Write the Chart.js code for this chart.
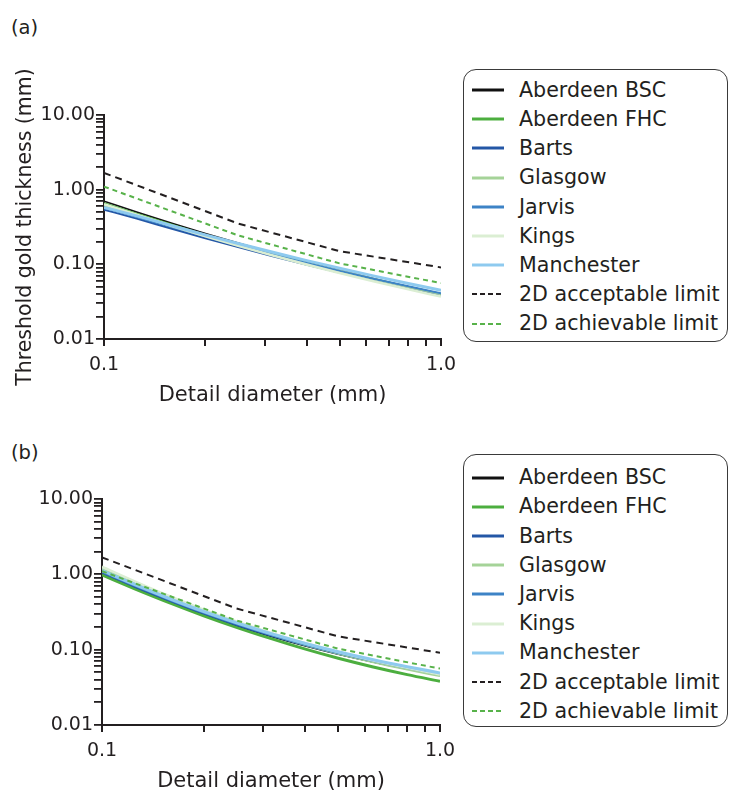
<!DOCTYPE html>
<html>
<head>
<meta charset="utf-8">
<script src="https://cdn.jsdelivr.net/npm/chart.js@4/dist/chart.umd.min.js"></script>
<style>
  html, body { margin: 0; padding: 0; background: #fff; width: 729px; height: 792px; overflow: hidden;
    font-family: "DejaVu Sans", sans-serif; color: #231f20; }
  .panel-label { position: absolute; left: 11px; font-size: 19.5px; line-height: 1; }
  canvas { position: absolute; left: 0; }
  .legend { position: absolute; left: 463px; width: 265px; height: 273px; box-sizing: border-box;
    border: 1.6px solid #3a3a3a; border-radius: 13px; background: #fff; }
  .legend .row { height: 29.2px; display: flex; align-items: center; white-space: nowrap; }
  .legend svg { margin-left: 7.5px; margin-right: 15.5px; flex: none; }
  .legend span { font-size: 20.6px; line-height: 1; }
</style>
</head>
<body>
<div class="panel-label" style="top:18px">(a)</div>
<canvas id="chartA" width="460" height="420" style="top:0"></canvas>
<div class="legend" id="legendA" style="top:69px; padding-top:5.5px"></div>

<div class="panel-label" style="top:443px">(b)</div>
<canvas id="chartB" width="460" height="380" style="top:420px"></canvas>
<div class="legend" id="legendB" style="top:454px; padding-top:8px"></div>

<script>
// Detail diameters (mm) at which each site's threshold curve is sampled
const diameters = [0.1, 0.125, 0.16, 0.2, 0.25, 0.315, 0.4, 0.5, 0.63, 0.8, 1.0];

// Panel (a): threshold gold thickness (mm) per site
const aAberdeenBSC  = [0.700, 0.503, 0.353, 0.259, 0.193, 0.144, 0.108, 0.0832, 0.0645, 0.0501, 0.0400];
const aAberdeenFHC  = [0.660, 0.478, 0.337, 0.248, 0.185, 0.139, 0.104, 0.0806, 0.0626, 0.0487, 0.0390];
const aBarts        = [0.540, 0.409, 0.297, 0.224, 0.170, 0.129, 0.0988, 0.0777, 0.0612, 0.0483, 0.0390];
const aGlasgow      = [0.620, 0.458, 0.327, 0.243, 0.183, 0.138, 0.104, 0.0814, 0.0636, 0.0498, 0.0400];
const aJarvis       = [0.570, 0.431, 0.313, 0.236, 0.179, 0.136, 0.104, 0.0817, 0.0643, 0.0508, 0.0410];
const aKings        = [0.640, 0.461, 0.324, 0.238, 0.177, 0.132, 0.0991, 0.0767, 0.0595, 0.0463, 0.0370];
const aManchester   = [0.580, 0.446, 0.327, 0.248, 0.190, 0.146, 0.112, 0.0884, 0.0700, 0.0555, 0.0450];

// Panel (b): threshold gold thickness (mm) per site
const bAberdeenBSC  = [0.998, 0.656, 0.423, 0.292, 0.208, 0.151, 0.112, 0.0871, 0.0690, 0.0555, 0.0460];
const bAberdeenFHC  = [0.980, 0.643, 0.412, 0.282, 0.198, 0.141, 0.1015, 0.0768, 0.0593, 0.0466, 0.0380];
const bBarts        = [1.050, 0.685, 0.439, 0.301, 0.213, 0.154, 0.114, 0.0879, 0.0694, 0.0556, 0.0459];
const bGlasgow      = [1.200, 0.768, 0.480, 0.324, 0.225, 0.160, 0.116, 0.0890, 0.0693, 0.0549, 0.0450];
const bJarvis       = [1.077, 0.703, 0.450, 0.309, 0.219, 0.158, 0.1165, 0.0902, 0.0712, 0.0570, 0.0471];
const bKings        = [1.260, 0.805, 0.503, 0.339, 0.236, 0.1675, 0.1217, 0.0930, 0.0725, 0.0574, 0.0470];
const bManchester   = [1.120, 0.731, 0.468, 0.321, 0.228, 0.164, 0.121, 0.0938, 0.0740, 0.0593, 0.0490];

// 2D limiting values (European guidelines)
const limitDiameters  = [0.1, 0.25, 0.5, 1.0];
const acceptableLimit = [1.68, 0.352, 0.150, 0.091];
const achievableLimit = [1.10, 0.244, 0.103, 0.056];

const siteNames  = ['Aberdeen BSC', 'Aberdeen FHC', 'Barts', 'Glasgow', 'Jarvis', 'Kings', 'Manchester'];
const limitNames = ['2D acceptable limit', '2D achievable limit'];

// Axis ticks
const xMajorValues = [0.1, 1.0];
const xTickLabels  = ['0.1', '1.0'];
const yMajorValues = [0.01, 0.1, 1, 10];
const yTickLabels  = ['0.01', '0.10', '1.00', '10.00'];

// ---- styling ----
const ink = '#231f20';
const siteColors = ['#111111', '#4cae3f', '#2457a6', '#a5d398', '#3d83c6', '#dbeed3', '#8ecaef'];
const limitColors = [ink, '#58b24a'];
const limitDash = [[7, 5], [5, 4]];
const widthsA = [1.6, 2, 2, 2.4, 2, 2.6, 3];
const widthsB = [1.6, 3, 2, 2.6, 2, 2.6, 3.2];

Chart.defaults.font.family = '"DejaVu Sans", sans-serif';
Chart.defaults.color = ink;

function minorTicks(decades) {
  const out = [];
  decades.forEach(d => { for (let m = 1; m <= 9; m++) out.push(+(m * d).toPrecision(3)); });
  return out;
}
const xTickValues = minorTicks([0.1]).concat([1.0]);
const yTickValues = minorTicks([0.01, 0.1, 1]).concat([10]);

function labelFor(v, majors, labels) {
  const i = majors.findIndex(m => Math.abs(Math.log10(v) - Math.log10(m)) < 1e-6);
  return i >= 0 ? labels[i] : '';
}

function buildDatasets(series, widths) {
  const sets = series.map((vals, i) => ({
    label: siteNames[i],
    data: diameters.map((d, k) => ({ x: d, y: vals[k] })),
    borderColor: siteColors[i],
    borderWidth: widths[i],
    pointRadius: 0,
    cubicInterpolationMode: 'monotone',
    fill: false,
    order: 20 - i
  }));
  [acceptableLimit, achievableLimit].forEach((vals, i) => {
    sets.push({
      label: limitNames[i],
      data: limitDiameters.map((d, k) => ({ x: d, y: vals[k] })),
      borderColor: limitColors[i],
      borderWidth: 2,
      borderDash: limitDash[i],
      pointRadius: 0,
      tension: 0,
      fill: false,
      order: 1 - i
    });
  });
  return sets;
}

// Scales keep only the size we give them; the layout padding places the plot area
function pinScale(s, size) {
  if (s.isHorizontal()) s.height = size; else s.width = size;
  s.paddingLeft = 0; s.paddingRight = 0; s.paddingTop = 0; s.paddingBottom = 0;
}

function makeChart(id, datasets, cfg) {
  return new Chart(document.getElementById(id), {
    type: 'line',
    data: { datasets },
    options: {
      responsive: false,
      animation: false,
      devicePixelRatio: 1,
      layout: { padding: cfg.padding },
      plugins: { legend: { display: false }, tooltip: { enabled: false } },
      scales: {
        x: {
          type: 'logarithmic', min: 0.1, max: 1.0,
          afterBuildTicks: s => { s.ticks = xTickValues.map(v => ({ value: v })); },
          afterFit: s => pinScale(s, 73),
          ticks: { autoSkip: false, maxRotation: 0, padding: 8, font: { size: 19 }, color: ink,
                   callback: v => labelFor(v, xMajorValues, xTickLabels) },
          grid: { drawOnChartArea: false, drawTicks: true, tickLength: 7, color: ink, lineWidth: 2 },
          border: { display: true, color: ink, width: 2 },
          title: { display: true, text: 'Detail diameter (mm)', font: { size: 21 }, color: ink,
                   padding: { top: 4, bottom: 4 } }
        },
        y: {
          type: 'logarithmic', min: 0.01, max: 10,
          afterBuildTicks: s => { s.ticks = yTickValues.map(v => ({ value: v })); },
          afterFit: s => pinScale(s, cfg.yWidth),
          ticks: { autoSkip: false, padding: 1, font: { size: 19 }, color: ink,
                   callback: v => labelFor(v, yMajorValues, yTickLabels) },
          grid: { drawOnChartArea: false, drawTicks: true, tickLength: 8, color: ink, lineWidth: 1.8 },
          border: { display: true, color: ink, width: 2 },
          title: { display: cfg.yTitle, text: 'Threshold gold thickness (mm)', font: { size: 20.5 }, color: ink,
                   padding: { top: 4, bottom: 0 } }
        }
      }
    }
  });
}

makeChart('chartA',
  buildDatasets([aAberdeenBSC, aAberdeenFHC, aBarts, aGlasgow, aJarvis, aKings, aManchester], widthsA),
  { padding: { left: 9, top: 115, right: 19, bottom: 8 }, yWidth: 95, yTitle: true });

makeChart('chartB',
  buildDatasets([bAberdeenBSC, bAberdeenFHC, bBarts, bGlasgow, bJarvis, bKings, bManchester], widthsB),
  { padding: { left: 0, top: 79, right: 20, bottom: 2 }, yWidth: 102, yTitle: false });

// Legends
function buildLegend(id) {
  const el = document.getElementById(id);
  const entries = siteNames.map((n, i) => ({ name: n, color: siteColors[i], dash: null }))
    .concat(limitNames.map((n, i) => ({ name: n, color: limitColors[i], dash: '5 3' })));
  entries.forEach(e => {
    const row = document.createElement('div');
    row.className = 'row';
    const w = e.dash ? 2 : 3;
    row.innerHTML = '<svg width="32" height="6"><line x1="0" y1="3" x2="32" y2="3" stroke="' + e.color +
      '" stroke-width="' + w + '"' + (e.dash ? ' stroke-dasharray="' + e.dash + '"' : '') + '/></svg>' +
      '<span>' + e.name + '</span>';
    el.appendChild(row);
  });
}
buildLegend('legendA');
buildLegend('legendB');
</script>
</body>
</html>
